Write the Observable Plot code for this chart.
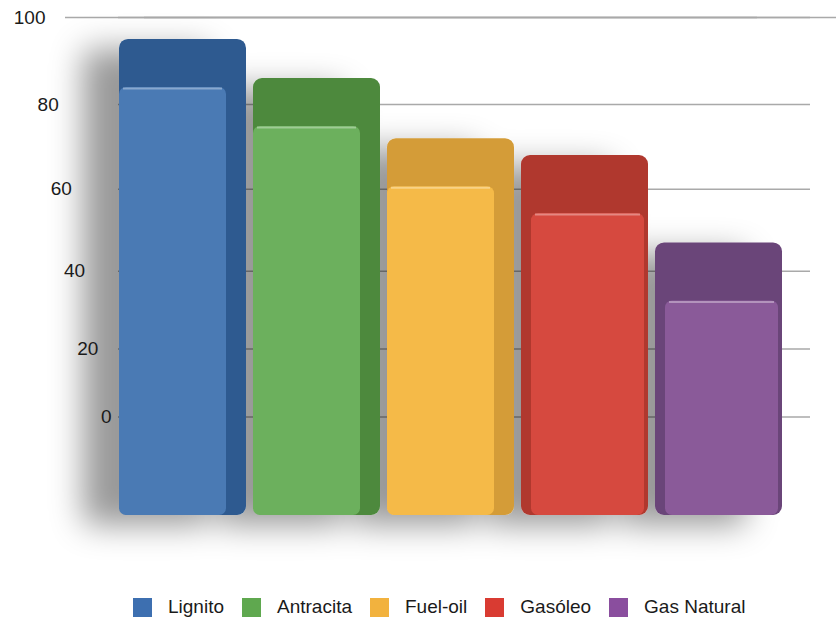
<!DOCTYPE html>
<html><head><meta charset="utf-8">
<script src="https://cdn.jsdelivr.net/npm/d3@7"></script>
<script src="https://cdn.jsdelivr.net/npm/@observablehq/plot@0.6"></script>
<style>
body{margin:0;background:#fff;font-family:"Liberation Sans",Arial,Helvetica,sans-serif;}
#chart svg{display:block;}
#legend{display:flex;align-items:center;height:44px;padding-left:133px;font-size:19px;color:#1a1a1a;}
#legend .item{display:flex;align-items:center;margin-right:18px;}
#legend .sw{width:19px;height:19px;margin-right:16px;}
</style></head><body>
<div id="chart"></div>
<div id="legend"></div>
<script>
const categories = ["Lignito", "Antracita", "Fuel-oil", "Gasóleo", "Gas Natural"];
const values = [95, 86, 72, 68, 47];
const frontColors = ["#4a7ab4", "#6cb05d", "#f5ba48", "#d6493f", "#8a5a99"];
const topColors = ["#2d5a90", "#4d893d", "#d49c38", "#b0382f", "#6a4479"];
const legendColors = ["#3d6fb0", "#5fa84f", "#f2b23e", "#d93b32", "#8a4e9e"];
const yTicks = [0, 20, 40, 60, 80, 100];
const baseline = -28;

const data = categories.map((c, i) => ({category: c, value: values[i], front: frontColors[i], top: topColors[i]}));
const leftGroup = data.slice(0, 3);
const rightGroup = data.slice(3);

const chart = Plot.plot({
  width: 836,
  height: 585,
  marginTop: 17,
  marginBottom: 70,
  marginLeft: 118,
  marginRight: 26,
  style: {background: "#fff", fontFamily: "'Liberation Sans', Arial, sans-serif"},
  x: {domain: categories, range: [112, 790], padding: 0.05, axis: null},
  y: {type: "pow", exponent: 1.1, domain: [baseline, 100], axis: null},
  color: {type: "identity"},
  marks: [
    Plot.ruleY(yTicks, {stroke: "#a9a9a9", strokeWidth: 1.6}),
    Plot.ruleY([yTicks[yTicks.length - 1]], {stroke: "#a9a9a9", strokeWidth: 1.6, dx: -53}),
    Plot.ruleY([yTicks[yTicks.length - 1]], {stroke: "#a9a9a9", strokeWidth: 1.6, dx: 26}),
    Plot.barY(data, {x: "category", y1: () => baseline, y2: "value", fill: "top", rx: 9}),
    Plot.barY(leftGroup, {x: "category", y1: () => baseline, y2: "value", fill: "front", rx: 7, insetTop: 48, insetRight: 20}),
    Plot.barY(rightGroup, {x: "category", y1: () => baseline, y2: "value", fill: "front", rx: 7, insetTop: 58, insetLeft: 10, insetRight: 4}),
    Plot.tickY(leftGroup, {x: "category", y: "value", dy: 49, stroke: "#ffffff", strokeOpacity: 0.35, strokeWidth: 2, insetLeft: 4, insetRight: 24}),
    Plot.tickY(rightGroup, {x: "category", y: "value", dy: 59, stroke: "#ffffff", strokeOpacity: 0.35, strokeWidth: 2, insetLeft: 14, insetRight: 8}),
    Plot.text(yTicks, {y: d => d, text: d => String(d), frameAnchor: "left", textAnchor: "end", dx: -73, fontSize: 19, fill: "#1a1a1a"})
  ]
});
document.getElementById("chart").appendChild(chart);

// drop shadow for the bars
const svg = d3.select(chart);
const defs = svg.insert("defs", ":first-child");
const f = defs.append("filter").attr("id", "barShadow")
  .attr("x", "-60%").attr("y", "-20%").attr("width", "220%").attr("height", "150%");
f.append("feDropShadow").attr("dx", -36).attr("dy", 10).attr("stdDeviation", 16)
  .attr("flood-color", "#000").attr("flood-opacity", 0.4);
svg.select('g[aria-label="bar"]').attr("filter", "url(#barShadow)");

// perspective offset for the axis labels
svg.selectAll('g[aria-label="text"] text').each(function () {
  const v = Number(this.textContent);
  const t = this.getAttribute("transform");
  const shift = `translate(${(100 - v) * 0.66},0)`;
  this.setAttribute("transform", t ? shift + " " + t : shift);
});

// legend
const legend = d3.select("#legend");
categories.forEach((c, i) => {
  const it = legend.append("div").attr("class", "item");
  it.append("div").attr("class", "sw").style("background", legendColors[i]);
  it.append("span").text(c);
});
</script>
</body></html>
